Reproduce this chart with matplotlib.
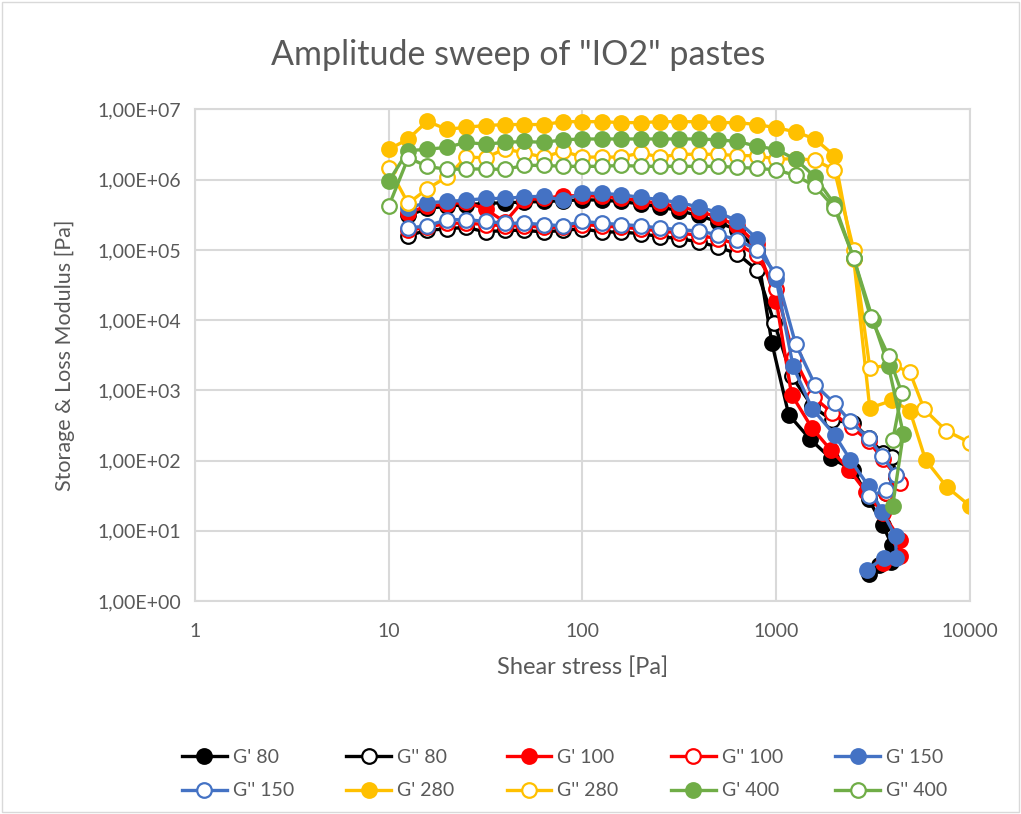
import matplotlib.pyplot as plt
from matplotlib.ticker import FuncFormatter, FixedLocator, NullLocator
from matplotlib.patches import Rectangle

plt.rcParams['font.family'] = ['Lato', 'DejaVu Sans']

# shear stress steps of the plateau (Pa)
x_plateau = [10, 12.6, 15.8, 20, 25.1, 31.6, 39.8, 50.1, 63.1, 79.4, 100, 126, 158, 200,
             251, 316, 398, 501, 631, 794, 1000, 1259, 1585, 1995]
x_low = x_plateau[1:20]   # 12.6 .. 794

# G' 80 / G'' 80
g1_80 = [3.1e5, 3.9e5, 4.2e5, 4.4e5, 4.6e5, 4.7e5, 4.8e5, 4.9e5, 5.0e5, 5.2e5, 5.1e5, 4.9e5,
         4.5e5, 4.1e5, 3.6e5, 3.1e5, 2.5e5, 1.9e5, 1.0e5]
g1_80_tx = [950, 1160, 1500, 1910, 2500, 3000, 3540, 3950, 3900, 3400, 3000]
g1_80_ty = [4.7e3, 450, 200, 108, 74, 28, 12.2, 6.3, 3.6, 3.3, 2.4]
g2_80 = [1.6e5, 1.9e5, 2.0e5, 2.1e5, 1.8e5, 1.9e5, 1.9e5, 1.8e5, 1.9e5, 2.0e5, 1.8e5, 1.8e5,
         1.7e5, 1.55e5, 1.45e5, 1.3e5, 1.1e5, 8.8e4, 5.2e4]
g2_80_tx = [977, 1200, 1530, 1930, 2500, 3000, 3540, 3950, 4170, 3700]
g2_80_ty = [9.2e3, 1.6e3, 600, 380, 340, 210, 130, 114, 59, 35]

# G' 100 / G'' 100
g1_100 = [3.4e5, 4.2e5, 4.5e5, 4.8e5, 3.8e5, 2.5e5, 5.2e5, 5.4e5, 5.9e5, 5.9e5, 5.8e5, 5.5e5,
          5.0e5, 4.6e5, 4.1e5, 3.6e5, 2.9e5, 2.2e5, 1.2e5]
g1_100_tx = [1000, 1200, 1530, 1910, 2380, 2900, 3540, 4380, 4380, 3540]
g1_100_ty = [1.9e4, 870, 290, 142, 74, 36, 18, 7.4, 4.3, 3.45]
g2_100 = [1.9e5, 2.1e5, 2.4e5, 2.4e5, 2.3e5, 2.2e5, 2.2e5, 2.1e5, 2.1e5, 2.3e5, 2.2e5, 2.1e5,
          2.0e5, 1.85e5, 1.75e5, 1.6e5, 1.45e5, 1.2e5, 8.5e4]
g2_100_tx = [1000, 1230, 1560, 1950, 2450, 3000, 3540, 4170, 4380, 3700]
g2_100_ty = [2.8e4, 3.0e3, 800, 475, 300, 190, 105, 60, 48, 34]

# G' 150 / G'' 150
g1_150 = [4.0e5, 4.7e5, 4.9e5, 5.1e5, 5.4e5, 5.4e5, 5.7e5, 5.8e5, 5.1e5, 6.4e5, 6.4e5, 6.1e5,
          5.6e5, 5.2e5, 4.7e5, 4.1e5, 3.4e5, 2.6e5, 1.45e5]
g1_150_tx = [1000, 1222, 1531, 2000, 2415, 3000, 3525, 4130, 4170, 3590, 2950]
g1_150_ty = [3.8e4, 2.2e3, 550, 233, 102, 43, 18.8, 8.3, 4.1, 4.1, 2.8]
g2_150 = [2.05e5, 2.2e5, 2.7e5, 2.7e5, 2.55e5, 2.4e5, 2.4e5, 2.3e5, 2.2e5, 2.55e5, 2.4e5, 2.3e5,
          2.2e5, 2.05e5, 1.95e5, 1.85e5, 1.65e5, 1.4e5, 1.0e5]
g2_150_tx = [1000, 1259, 1585, 2000, 2415, 3000, 3525, 4130, 3680, 3000]
g2_150_ty = [4.6e4, 4.6e3, 1.2e3, 650, 360, 208, 117, 63, 38, 30.8]

# G' 280 / G'' 280
g1_280 = [2.7e6, 3.8e6, 6.8e6, 5.2e6, 5.6e6, 5.9e6, 6.1e6, 6.1e6, 6.1e6, 6.7e6, 6.7e6, 6.7e6,
          6.5e6, 6.5e6, 6.7e6, 6.7e6, 6.7e6, 6.5e6, 6.5e6, 6.1e6, 5.5e6, 4.8e6, 3.8e6, 2.2e6]
g1_280_tx = [2512, 3040, 3980, 4900, 5900, 7600, 10000]
g1_280_ty = [7.5e4, 560, 720, 510, 102, 42, 22.6]
g2_280 = [1.48e6, 4.6e5, 7.4e5, 1.1e6, 2.1e6, 2.05e6, 2.75e6, 2.4e6, 2.1e6, 2.55e6, 2.1e6, 2.1e6,
          2.1e6, 2.4e6, 2.1e6, 2.3e6, 2.3e6, 2.3e6, 2.2e6, 2.2e6, 1.95e6, 2.0e6, 1.9e6, 1.38e6]
g2_280_tx = [2512, 3040, 4000, 4900, 5800, 7550, 10000]
g2_280_ty = [1.0e5, 2.1e3, 2.3e3, 1.8e3, 540, 265, 180]

# G' 400 / G'' 400
g1_400 = [9.5e5, 2.6e6, 2.7e6, 2.9e6, 3.4e6, 3.2e6, 3.4e6, 3.5e6, 3.4e6, 3.7e6, 3.8e6, 3.8e6,
          3.8e6, 3.8e6, 3.8e6, 3.8e6, 3.8e6, 3.7e6, 3.5e6, 3.0e6, 2.7e6, 1.95e6, 1.1e6, 4.5e5]
g1_400_tx = [2512, 3162, 3800, 4530, 3990]
g1_400_ty = [7.6e4, 1.0e4, 2.2e3, 240, 22.6]
g2_400 = [4.2e5, 2.05e6, 1.55e6, 1.4e6, 1.42e6, 1.42e6, 1.4e6, 1.6e6, 1.6e6, 1.55e6, 1.55e6, 1.55e6,
          1.6e6, 1.55e6, 1.55e6, 1.55e6, 1.55e6, 1.55e6, 1.5e6, 1.45e6, 1.38e6, 1.15e6, 8.1e5, 4.0e5]
g2_400_tx = [2512, 3070, 3800, 4450, 3990]
g2_400_ty = [7.7e4, 1.1e4, 3.1e3, 920, 193]

series = [
    ("G' 80", x_low + g1_80_tx, g1_80 + g1_80_ty, '#000000', True),
    ("G'' 80", x_low + g2_80_tx, g2_80 + g2_80_ty, '#000000', False),
    ("G' 100", x_low + g1_100_tx, g1_100 + g1_100_ty, '#ff0000', True),
    ("G'' 100", x_low + g2_100_tx, g2_100 + g2_100_ty, '#ff0000', False),
    ("G' 150", x_low + g1_150_tx, g1_150 + g1_150_ty, '#4472c4', True),
    ("G'' 150", x_low + g2_150_tx, g2_150 + g2_150_ty, '#4472c4', False),
    ("G' 280", x_plateau + g1_280_tx, g1_280 + g1_280_ty, '#ffc000', True),
    ("G'' 280", x_plateau + g2_280_tx, g2_280 + g2_280_ty, '#ffc000', False),
    ("G' 400", x_plateau + g1_400_tx, g1_400 + g1_400_ty, '#70ad47', True),
    ("G'' 400", x_plateau + g2_400_tx, g2_400 + g2_400_ty, '#70ad47', False),
]

fig = plt.figure(figsize=(10.21, 8.14), dpi=100)
ax = fig.add_axes([0.191, 0.2617, 0.759, 0.6038])

for name, xs, ys, col, filled in series:
    ax.plot(xs, ys, color=col, lw=2.4, marker='o', ms=10.5,
            mfc=col if filled else 'white', mec=col, mew=1.6, label=name)

ax.set_xscale('log')
ax.set_yscale('log')
ax.set_xlim(1, 10000)
ax.set_ylim(1, 1e7)
ax.xaxis.set_major_locator(FixedLocator([1, 10, 100, 1000, 10000]))
ax.yaxis.set_major_locator(FixedLocator([1, 10, 100, 1e3, 1e4, 1e5, 1e6, 1e7]))
ax.xaxis.set_minor_locator(NullLocator())
ax.yaxis.set_minor_locator(NullLocator())
ax.xaxis.set_major_formatter(FuncFormatter(lambda v, p: f"{v:.0f}"))
ax.yaxis.set_major_formatter(FuncFormatter(lambda v, p: f"{v:.2E}".replace('.', ',')))
ax.tick_params(length=0, labelsize=14, colors='#595959')
ax.tick_params(axis='y', pad=10)
ax.tick_params(axis='x', pad=16)
ax.grid(True, color='#d9d9d9', lw=1.5)
ax.set_axisbelow(True)
for s in ax.spines.values():
    s.set_color('#d9d9d9')
    s.set_linewidth(1.5)

fig.text(0.508, 0.932, 'Amplitude sweep of "IO2" pastes', fontsize=24.5, color='#595959',
         ha='center', va='center')
ax.set_xlabel('Shear stress [Pa]', fontsize=17, color='#595959', labelpad=12)
ax.set_ylabel('Storage & Loss Modulus [Pa]', fontsize=15.5, color='#595959', labelpad=16)

# legend filled row by row, as in the original
handles, labels = ax.get_legend_handles_labels()
order = [0, 5, 1, 6, 2, 7, 3, 8, 4, 9]
fig.legend([handles[i] for i in order], [labels[i] for i in order],
           loc='center', bbox_to_anchor=(0.553, 0.049), ncol=5, frameon=False,
           fontsize=14, labelcolor='#595959', handlelength=2.3, columnspacing=2.7,
           handletextpad=0.3, labelspacing=0.85)

fig.patches.append(Rectangle((0.002, 0.002), 0.996, 0.996, transform=fig.transFigure,
                             fill=False, edgecolor='#d9d9d9', lw=1))

fig.savefig('out.png', dpi=100)
